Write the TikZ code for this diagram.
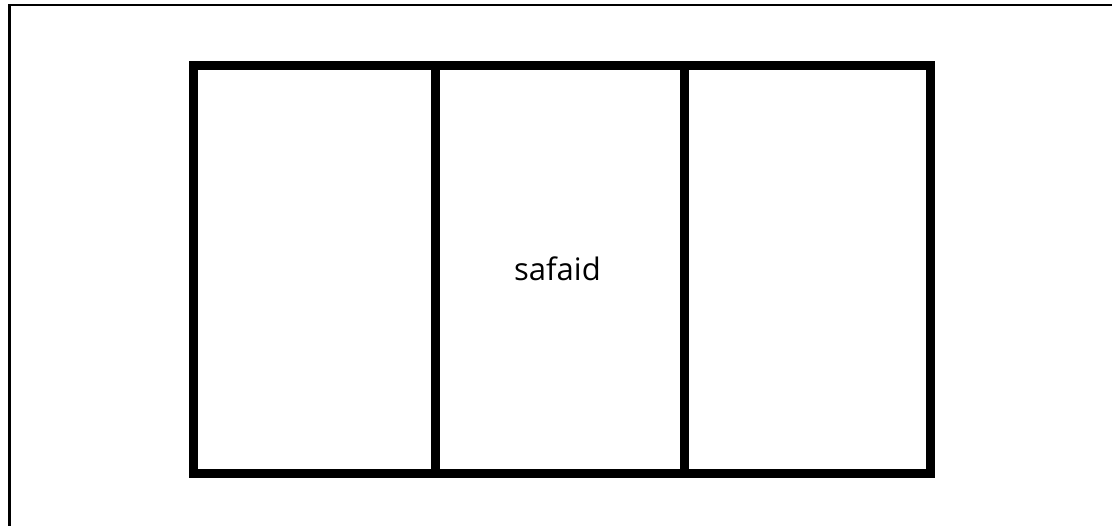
\documentclass[tikz,border=0pt]{standalone}
\usepackage{fontspec}
\setmainfont{Open Sans}
\begin{document}
\begin{tikzpicture}[x=1pt,y=-1pt,
  frame/.style={line width=2.5pt},
  wall/.style={line width=9pt, line cap=rect},
  lbl/.style={font=\fontsize{31}{35}\selectfont, inner sep=0pt}]
\useasboundingbox (0,0) rectangle (1112,526);
\draw[frame] (9.5,526) -- (9.5,5) -- (1112,5);
\coordinate (tl) at (193.5,66);
\coordinate (br) at (930,473.5);
\draw[wall] (tl) rectangle (br);
\coordinate (d1t) at (435.5,66);
\coordinate (d1b) at (435.5,473.5);
\coordinate (d2t) at (684.5,66);
\coordinate (d2b) at (684.5,473.5);
\draw[wall] (d1t) -- (d1b);
\draw[wall] (d2t) -- (d2b);
\node[lbl, anchor=base] (s) at (557.5,281) {safaid};
\end{tikzpicture}
\end{document}
